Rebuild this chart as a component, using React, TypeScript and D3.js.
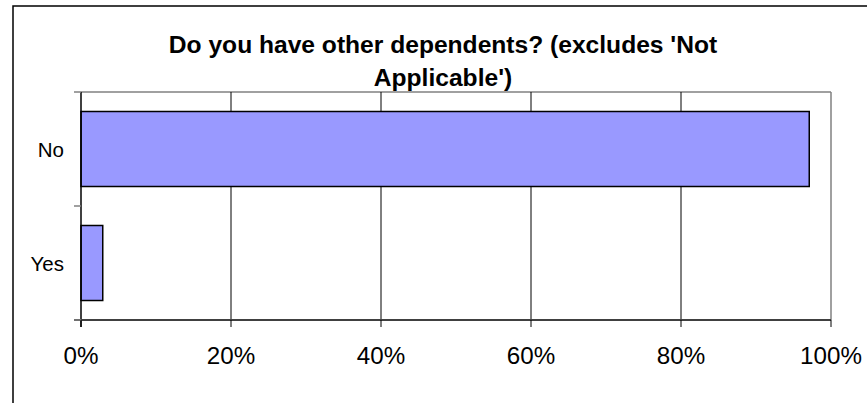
import React from "react";
import * as d3 from "d3";

const categories = ["No", "Yes"];
const values = [97.1, 2.9];
const xTicks = [0, 20, 40, 60, 80, 100];
const titleLines = ["Do you have other dependents? (excludes 'Not", "Applicable')"];

export default function App() {
  const W = 867, H = 403;
  const left = 81, right = 831, top = 92, bottom = 320;
  const x = d3.scaleLinear().domain([0, 100]).range([left, right]);
  const y = d3.scaleBand<string>().domain(categories).range([top, bottom]).paddingInner(0.342).paddingOuter(0.171);
  const step = y.step();
  const boundaries = d3.range(categories.length + 1).map((i) => top + i * step);
  const font = "'Liberation Sans', Arial, sans-serif";

  return (
    <svg width={W} height={H} style={{ position: "absolute", left: 0, top: 0, background: "#fff" }}>
      <rect x={0} y={0} width={W} height={H} fill="#fff" />
      <rect x={13} y={6} width={900} height={420} fill="none" stroke="#000" strokeWidth={1.5} />
      {titleLines.map((t, i) => (
        <text key={i} x={443} y={53 + i * 33} textAnchor="middle" fontFamily={font} fontWeight="bold" fontSize={24.6} fill="#000">
          {t}
        </text>
      ))}
      {/* plot area border */}
      <line x1={left} x2={right} y1={top} y2={top} stroke="#808080" strokeWidth={1.5} />
      <line x1={right} x2={right} y1={top} y2={bottom} stroke="#808080" strokeWidth={1.5} />
      {/* gridlines */}
      {xTicks.filter((t) => t > 0 && t < 100).map((t) => (
        <line key={t} x1={x(t)} x2={x(t)} y1={top} y2={bottom} stroke="#000" strokeWidth={1} />
      ))}
      {/* bars */}
      {categories.map((c, i) => (
        <rect key={c} x={x(0)} y={y(c)!} width={x(values[i]) - x(0)} height={y.bandwidth()} fill="#9999FF" stroke="#000" strokeWidth={1.5} />
      ))}
      {/* axes */}
      <line x1={left} x2={left} y1={top} y2={bottom + 7} stroke="#000" strokeWidth={1.5} />
      <line x1={left - 7} x2={right} y1={bottom} y2={bottom} stroke="#404040" strokeWidth={2} />
      {boundaries.map((b, i) => (
        <line key={i} x1={left - 7} x2={left} y1={b} y2={b} stroke="#808080" strokeWidth={1.5} />
      ))}
      {xTicks.map((t) => (
        <g key={t}>
          <line x1={x(t)} x2={x(t)} y1={bottom} y2={bottom + 7} stroke="#000" strokeWidth={1} />
          <text x={x(t)} y={364} textAnchor="middle" fontFamily={font} fontSize={24.2} fill="#000">
            {t}%
          </text>
        </g>
      ))}
      {categories.map((c) => (
        <text key={c} x={64} y={y(c)! + y.bandwidth() / 2 + 7.5} textAnchor="end" fontFamily={font} fontSize={20.5} fill="#000">
          {c}
        </text>
      ))}
    </svg>
  );
}
